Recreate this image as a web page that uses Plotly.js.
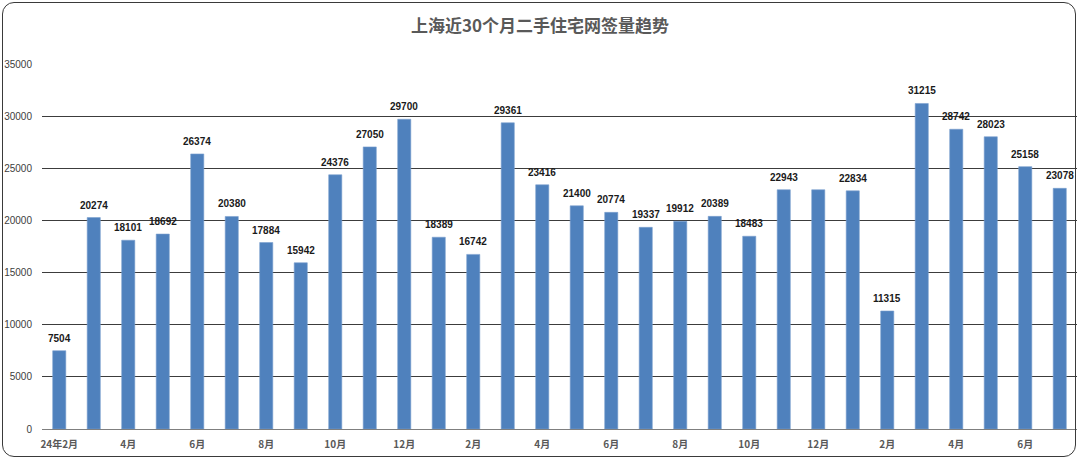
<!DOCTYPE html>
<html>
<head>
<meta charset="utf-8">
<script src="https://cdn.plot.ly/plotly-3.0.1.min.js"></script>
<style>
  body { margin: 0; background: #fff; }
  #wrap { position: relative; width: 1080px; height: 461px; }
  #chart { position: absolute; left: 0; top: 0; width: 1080px; height: 461px; }
  #frame {
    position: absolute; left: 2px; top: 2px; width: 1072px; height: 453px;
    border: 1.5px solid #3a3a3a; border-radius: 12px; pointer-events: none;
  }
</style>
</head>
<body>
<div id="wrap">
  <div id="chart"></div>
  <div id="frame"></div>
</div>
<script>
const TITLE = '上海近30个月二手住宅网签量趋势';

// 2024-02 .. 2026-07
const months = [
  '2024-02', '2024-03', '2024-04', '2024-05', '2024-06', '2024-07',
  '2024-08', '2024-09', '2024-10', '2024-11', '2024-12', '2025-01',
  '2025-02', '2025-03', '2025-04', '2025-05', '2025-06', '2025-07',
  '2025-08', '2025-09', '2025-10', '2025-11', '2025-12', '2026-01',
  '2026-02', '2026-03', '2026-04', '2026-05', '2026-06', '2026-07'
];

const tickLabels = [
  '24年2月', '', '4月', '', '6月', '', '8月', '', '10月', '', '12月', '',
  '2月', '', '4月', '', '6月', '', '8月', '', '10月', '', '12月', '',
  '2月', '', '4月', '', '6月', ''
];

const deals = [
  7504, 20274, 18101, 18692, 26374, 20380, 17884, 15942, 24376, 27050,
  29700, 18389, 16742, 29361, 23416, 21400, 20774, 19337, 19912, 20389,
  18483, 22943, 22940, 22834, 11315, 31215, 28742, 28023, 25158, 23078
];

// one bar carries no value label in the original
const valueLabels = deals.map((v, i) => (i === 22 ? '' : String(v)));

const FONT = 'Liberation Sans, Arial, Noto Sans CJK SC, sans-serif';
const GRID = '#3c3c3c';
const TXT = '#595959';

const trace = {
  type: 'bar',
  x: months,
  y: deals,
  marker: { color: '#4F81BD', line: { color: '#7aa0cf', width: 0.6 } },
  hoverinfo: 'x+y'
};

const annotations = months.map((m, i) => ({
  x: m,
  y: deals[i],
  xref: 'x',
  yref: 'y',
  text: valueLabels[i],
  showarrow: false,
  yanchor: 'bottom',
  yshift: 5,
  font: { family: FONT, size: 10, color: '#1a1a1a', weight: 'bold' }
}));

const layout = {
  width: 1080,
  height: 461,
  margin: { l: 42, r: 3, t: 64, b: 32 },
  paper_bgcolor: '#ffffff',
  plot_bgcolor: '#ffffff',
  showlegend: false,
  bargap: 0.62,
  title: {
    text: '<b>' + TITLE + '</b>',
    x: 0.5,
    xanchor: 'center',
    y: 0.943,
    yanchor: 'middle',
    font: { family: 'Noto Sans CJK SC, sans-serif', size: 17, color: TXT }
  },
  xaxis: {
    type: 'category',
    range: [-0.5, 29.5],
    tickvals: months,
    ticktext: tickLabels,
    tickangle: 0,
    ticks: '',
    ticklabelstandoff: 6,
    showgrid: false,
    showline: true,
    linecolor: '#7f7f7f',
    linewidth: 1,
    tickfont: { family: 'Noto Sans CJK SC, sans-serif', size: 10, color: TXT, weight: 'bold' },
    fixedrange: true
  },
  yaxis: {
    range: [0, 35000],
    dtick: 5000,
    tick0: 0,
    showgrid: true,
    gridcolor: GRID,
    gridwidth: 1,
    zeroline: true,
    zerolinecolor: GRID,
    zerolinewidth: 1,
    showline: false,
    ticks: '',
    ticklen: 0,
    ticklabelstandoff: 9,
    tickformat: 'd',
    tickfont: { family: FONT, size: 10, color: '#404040' },
    fixedrange: true
  },
  annotations: annotations
};

const config = { displayModeBar: false, staticPlot: true };

Plotly.newPlot('chart', [trace], layout, config);
</script>
</body>
</html>
